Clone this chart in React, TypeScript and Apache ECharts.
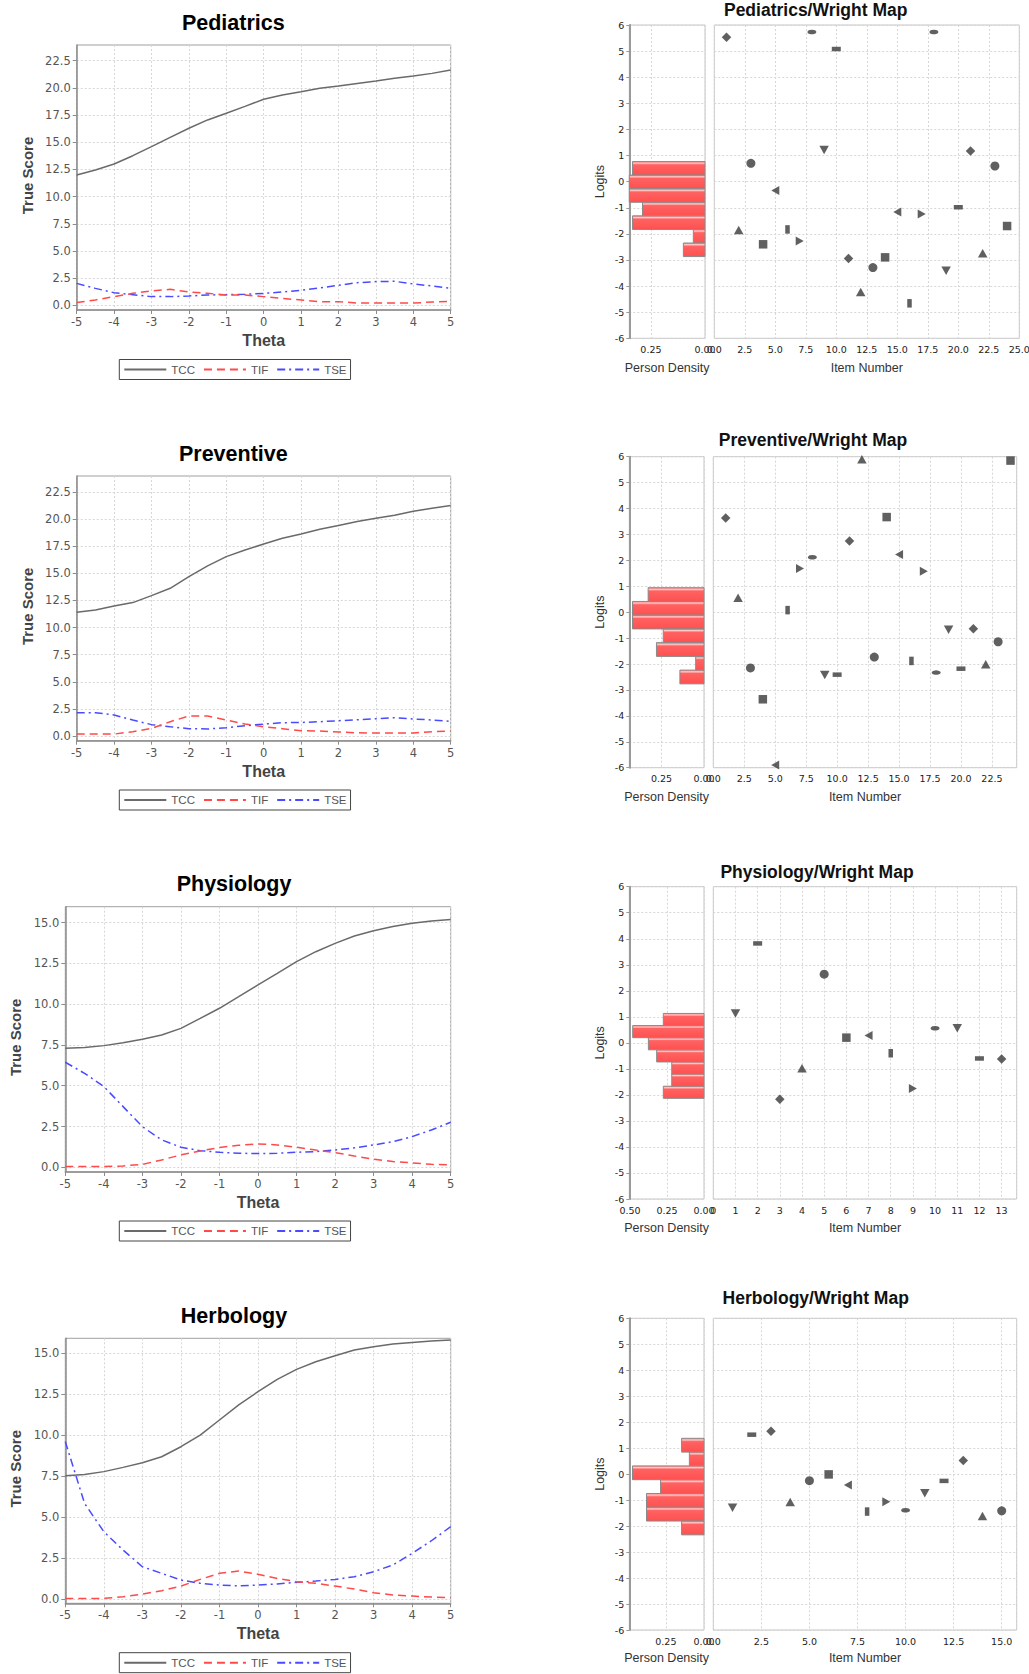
import React, { useEffect, useRef } from 'react';
import * as echarts from 'echarts';

// ---------- data ----------
const THETA = [-5, -4.5, -4, -3.5, -3, -2.5, -2, -1.5, -1, -0.5, 0, 0.5, 1, 1.5, 2, 2.5, 3, 3.5, 4, 4.5, 5];

const PED_TCC = [11.99, 12.45, 13.0, 13.76, 14.6, 15.45, 16.28, 17.05, 17.66, 18.3, 18.95, 19.35, 19.65, 19.96, 20.17, 20.4, 20.63, 20.88, 21.09, 21.33, 21.64];
const PED_TIF = [0.25, 0.5, 0.8, 1.1, 1.32, 1.47, 1.23, 1.1, 0.95, 0.95, 0.8, 0.64, 0.49, 0.34, 0.34, 0.21, 0.21, 0.21, 0.21, 0.3, 0.37];
const PED_TSE = [2.02, 1.56, 1.16, 0.98, 0.8, 0.8, 0.86, 0.95, 0.98, 1.01, 1.1, 1.23, 1.38, 1.6, 1.84, 2.08, 2.18, 2.21, 1.96, 1.78, 1.56];

const PREV_TCC = [11.4, 11.62, 11.99, 12.3, 12.94, 13.62, 14.69, 15.68, 16.54, 17.15, 17.7, 18.23, 18.63, 19.06, 19.4, 19.77, 20.07, 20.35, 20.72, 21.0, 21.24];
const PREV_TIF = [0.18, 0.18, 0.18, 0.4, 0.7, 1.32, 1.84, 1.84, 1.48, 1.1, 0.86, 0.68, 0.49, 0.46, 0.37, 0.3, 0.28, 0.28, 0.28, 0.4, 0.46];
const PREV_TSE = [2.15, 2.15, 1.94, 1.48, 1.05, 0.86, 0.68, 0.65, 0.77, 0.95, 1.1, 1.23, 1.25, 1.32, 1.41, 1.5, 1.6, 1.69, 1.57, 1.48, 1.35];

const PHYS_TCC = [7.3, 7.34, 7.46, 7.64, 7.85, 8.11, 8.52, 9.13, 9.75, 10.46, 11.18, 11.89, 12.61, 13.22, 13.73, 14.18, 14.51, 14.76, 14.96, 15.1, 15.2];
const PHYS_TIF = [0.04, 0.04, 0.04, 0.08, 0.18, 0.45, 0.76, 1.0, 1.21, 1.35, 1.43, 1.37, 1.23, 1.06, 0.9, 0.69, 0.49, 0.35, 0.27, 0.18, 0.14];
const PHYS_TSE = [6.44, 5.76, 4.95, 3.72, 2.49, 1.68, 1.23, 1.02, 0.92, 0.86, 0.84, 0.86, 0.92, 0.96, 1.06, 1.19, 1.37, 1.57, 1.88, 2.29, 2.76];

const HERB_TCC = [7.53, 7.61, 7.78, 8.04, 8.32, 8.69, 9.3, 10.01, 10.93, 11.85, 12.66, 13.41, 14.02, 14.49, 14.86, 15.2, 15.41, 15.57, 15.67, 15.75, 15.81];
const HERB_TIF = [0.04, 0.04, 0.04, 0.14, 0.3, 0.51, 0.79, 1.2, 1.57, 1.71, 1.51, 1.26, 1.06, 0.96, 0.79, 0.61, 0.39, 0.24, 0.18, 0.12, 0.08];
const HERB_TSE = [9.61, 5.84, 4.11, 2.99, 1.97, 1.57, 1.16, 0.96, 0.85, 0.81, 0.85, 0.92, 1.02, 1.1, 1.2, 1.36, 1.67, 2.08, 2.79, 3.56, 4.42];

// person density histograms: bin edges (logits, top to bottom) and densities
const PED_EDGES = [0.77, 0.25, -0.27, -0.79, -1.31, -1.83, -2.35, -2.87];
const PED_DENS = [0.335, 0.35, 0.35, 0.289, 0.335, 0.054, 0.1];
const PREV_EDGES = [0.945, 0.415, -0.115, -0.645, -1.175, -1.705, -2.235, -2.765];
const PREV_DENS = [0.329, 0.421, 0.421, 0.24, 0.28, 0.049, 0.142];
const PHYS_EDGES = [1.13, 0.664, 0.198, -0.268, -0.734, -1.2, -1.666, -2.132];
const PHYS_DENS = [0.275, 0.482, 0.376, 0.32, 0.218, 0.218, 0.275];
const HERB_EDGES = [1.38, 0.849, 0.318, -0.213, -0.744, -1.275, -1.806, -2.337];
const HERB_DENS = [0.147, 0.096, 0.469, 0.285, 0.377, 0.377, 0.147];

// item difficulties (logits), item number = index + 1
const PED_ITEMS = [5.53, -1.85, 0.7, -2.4, -0.34, -1.83, -2.27, 5.73, 1.21, 5.08, -2.94, -4.23, -3.29, -2.9, -1.16, -4.66, -1.24, 5.73, -3.41, -0.98, 1.17, -2.74, 0.6, -1.7];
const PREV_ITEMS = [3.63, 0.56, -2.15, -3.36, -5.9, 0.08, 1.69, 2.12, -2.42, -2.41, 2.75, 5.9, -1.73, 3.67, 2.23, -1.88, 1.58, -2.33, -0.68, -2.18, -0.64, -2.01, -1.14, 5.85];
const PHYS_ITEMS = [1.13, 3.82, -2.17, -0.98, 2.64, 0.2, 0.28, -0.4, -1.75, 0.56, 0.56, -0.6, -0.62];
const HERB_ITEMS = [-1.29, 1.52, 1.65, -1.07, -0.25, -0.01, -0.42, -1.44, -1.06, -1.39, -0.74, -0.26, 0.53, -1.61, -1.41];

const DOMAINS = ['Pediatrics', 'Preventive', 'Physiology', 'Herbology'];
const SERIES_NAMES = ['TCC', 'TIF', 'TSE'];
const TICKS_24 = [0, 2.5, 5, 7.5, 10, 12.5, 15, 17.5, 20, 22.5];
const TICKS_15 = [0, 2.5, 5, 7.5, 10, 12.5, 15];

const TCC_DATA = [
  [PED_TCC, PED_TIF, PED_TSE],
  [PREV_TCC, PREV_TIF, PREV_TSE],
  [PHYS_TCC, PHYS_TIF, PHYS_TSE],
  [HERB_TCC, HERB_TIF, HERB_TSE],
];
const TCC_TICKS = [TICKS_24, TICKS_24, TICKS_15, TICKS_15];
const HIST_EDGES = [PED_EDGES, PREV_EDGES, PHYS_EDGES, HERB_EDGES];
const HIST_DENS = [PED_DENS, PREV_DENS, PHYS_DENS, HERB_DENS];
const ITEMS = [PED_ITEMS, PREV_ITEMS, PHYS_ITEMS, HERB_ITEMS];

// marker shape cycle and starting offset per map
const SHAPE_CYCLE = ['diamond', 'triUp', 'circle', 'square', 'triLeft', 'vrect', 'triRight', 'hellipse', 'triDown', 'hrect'];
const SHAPE_OFFSET = [0, 0, 8, 8];

// ---------- layout ----------
const TCC_LAYOUT = [
  { left: 76.7, top: 45, width: 374, height: 265, yMin: -0.43, yMax: 23.94, titleX: 233.3, titleY: 22.5, nameX: 27, thetaY: 340.7, legendTop: 359.5 },
  { left: 76.7, top: 476, width: 374, height: 264.7, yMin: -0.43, yMax: 23.97, titleX: 233.3, titleY: 453.8, nameX: 27, thetaY: 771.7, legendTop: 790 },
  { left: 65.3, top: 906.7, width: 385.4, height: 265.3, yMin: -0.29, yMax: 15.98, titleX: 234, titleY: 884.2, nameX: 15.5, thetaY: 1202.7, legendTop: 1221 },
  { left: 65.3, top: 1338.3, width: 385.4, height: 265, yMin: -0.26, yMax: 15.92, titleX: 234, titleY: 1315.8, nameX: 15.5, thetaY: 1633.3, legendTop: 1652.7 },
];
const LEGEND_LEFT = 119.3;

const WM_LAYOUT = [
  { top: 25, height: 313.3, dLeft: 629.3, dWidth: 75.7, iLeft: 714.3, iWidth: 305, dMax: 0.35, iMax: 25, iStep: 2.5, iDec: 1, titleX: 815.7, titleY: 10, nameY: 367.7 },
  { top: 456.7, height: 311, dLeft: 629.3, dWidth: 74.7, iLeft: 713.3, iWidth: 303.4, dMax: 0.44, iMax: 24.5, iStep: 2.5, iDec: 1, titleX: 813, titleY: 439.7, nameY: 796.7 },
  { top: 886.7, height: 312.3, dLeft: 629.3, dWidth: 74.7, iLeft: 713.3, iWidth: 303.4, dMax: 0.505, iMax: 13.68, iStep: 1, iDec: 0, titleX: 817, titleY: 872, nameY: 1227.7 },
  { top: 1318.3, height: 311.7, dLeft: 629.3, dWidth: 74.7, iLeft: 713.3, iWidth: 303.4, dMax: 0.49, iMax: 15.78, iStep: 2.5, iDec: 1, titleX: 815.7, titleY: 1297.8, nameY: 1658.3 },
];

const LINE_STYLES = [
  { color: '#6a6a6a', width: 1.5, type: 'solid' as any },
  { color: '#ff4a4a', width: 1.5, type: [8, 5] as any },
  { color: '#4a4aff', width: 1.5, type: [8, 4, 2, 4] as any },
];

const GRID_LINE = { show: true, lineStyle: { color: '#d6d6d6', type: [2, 2] as any, width: 1 } };

function symbolFor(shape: string) {
  switch (shape) {
    case 'diamond': return { symbol: 'diamond', symbolSize: [9.5, 9.5], symbolRotate: 0 };
    case 'triUp': return { symbol: 'triangle', symbolSize: [9.5, 8.5], symbolRotate: 0 };
    case 'circle': return { symbol: 'circle', symbolSize: [9, 9], symbolRotate: 0 };
    case 'square': return { symbol: 'rect', symbolSize: [8.5, 8.5], symbolRotate: 0 };
    case 'triLeft': return { symbol: 'triangle', symbolSize: [9, 8], symbolRotate: 90 };
    case 'vrect': return { symbol: 'rect', symbolSize: [4.5, 8.5], symbolRotate: 0 };
    case 'triRight': return { symbol: 'triangle', symbolSize: [9, 8], symbolRotate: -90 };
    case 'hellipse': return { symbol: 'circle', symbolSize: [9, 4.5], symbolRotate: 0 };
    case 'triDown': return { symbol: 'triangle', symbolSize: [9.5, 8.5], symbolRotate: 180 };
    default: return { symbol: 'rect', symbolSize: [9, 4.5], symbolRotate: 0 };
  }
}

function text(x: number, y: number, t: string, size: number, weight: string, fill: string, rotate = 0) {
  return {
    type: 'text',
    x, y,
    rotation: rotate,
    silent: true,
    style: {
      text: t,
      fontSize: size,
      fontWeight: weight,
      fontFamily: '"Liberation Sans", Arial, sans-serif',
      fill,
      textAlign: 'center',
      textVerticalAlign: 'middle',
    },
  };
}

function buildOption() {
  const grid: any[] = [];
  const xAxis: any[] = [];
  const yAxis: any[] = [];
  const series: any[] = [];
  const legend: any[] = [];
  const graphic: any[] = [];

  // TCC charts
  TCC_LAYOUT.forEach((L, i) => {
    const gi = grid.length;
    grid.push({ left: L.left, top: L.top, width: L.width, height: L.height, containLabel: false, outerBoundsMode: 'none', show: true, borderColor: '#a0a0a0', borderWidth: 1, backgroundColor: '#fff' });
    xAxis.push({
      type: 'value', gridIndex: gi, min: -5, max: 5, interval: 1, position: 'bottom',
      axisLine: { show: true, onZero: false, lineStyle: { color: '#8c8c8c', width: 1.5 } },
      axisTick: { show: true, length: 4, lineStyle: { color: '#8c8c8c' } },
      axisLabel: { color: '#555', fontSize: 11.5, fontFamily: '"DejaVu Sans", sans-serif', margin: 6, formatter: (v: number) => String(v) },
      splitLine: GRID_LINE,
    });
    yAxis.push({
      type: 'value', gridIndex: gi, min: L.yMin, max: L.yMax, position: 'left',
      axisLine: { show: true, onZero: false, lineStyle: { color: '#8c8c8c', width: 1.5 } },
      axisTick: { show: true, length: 4, lineStyle: { color: '#8c8c8c' }, customValues: TCC_TICKS[i] },
      axisLabel: { color: '#555', fontSize: 11.5, fontFamily: '"DejaVu Sans", sans-serif', margin: 6, customValues: TCC_TICKS[i], formatter: (v: number) => v.toFixed(1) },
      splitLine: GRID_LINE,
    });
    TCC_DATA[i].forEach((arr, k) => {
      series.push({
        type: 'line', name: SERIES_NAMES[k], xAxisIndex: gi, yAxisIndex: gi,
        data: THETA.map((t, j) => [t, arr[j]]),
        symbol: 'none', showSymbol: false, smooth: false,
        lineStyle: LINE_STYLES[k], itemStyle: { color: LINE_STYLES[k].color },
        silent: true, z: 5 - k,
      });
    });
    legend.push({
      left: LEGEND_LEFT, top: L.legendTop,
      orient: 'horizontal', data: SERIES_NAMES, selectedMode: false,
      borderColor: '#444', borderWidth: 1, borderRadius: 0, padding: [4, 4, 4, 4],
      itemWidth: 42, itemHeight: 10, itemGap: 8,
      itemStyle: { opacity: 0, borderWidth: 0 },
      lineStyle: { opacity: 1 },
      textStyle: { color: '#555', fontSize: 11.5, fontFamily: '"Liberation Sans", Arial, sans-serif' },
    });
    graphic.push(text(L.titleX, L.titleY, DOMAINS[i], 21.5, 'bold', '#000'));
    graphic.push(text(L.nameX, L.top + L.height / 2 - 2, 'True Score', 15, 'bold', '#444', Math.PI / 2));
    graphic.push(text(L.left + L.width / 2, L.thetaY, 'Theta', 16, 'bold', '#444'));
  });

  // Wright maps
  WM_LAYOUT.forEach((W, i) => {
    const dg = grid.length;
    grid.push({ left: W.dLeft, top: W.top, width: W.dWidth, height: W.height, containLabel: false, outerBoundsMode: 'none', show: true, borderColor: '#c4c4c4', borderWidth: 1 });
    xAxis.push({
      type: 'value', gridIndex: dg, min: 0, max: W.dMax, interval: 0.25, inverse: true, position: 'bottom',
      axisLine: { show: false, onZero: false }, axisTick: { show: false },
      axisLabel: { color: '#222', fontSize: 9.5, fontFamily: '"DejaVu Sans", sans-serif', margin: 6, showMaxLabel: false, showMinLabel: true, formatter: (v: number) => v.toFixed(2) },
      splitLine: GRID_LINE,
    });
    yAxis.push({
      type: 'value', gridIndex: dg, min: -6, max: 6, interval: 1, position: 'left',
      axisLine: { show: true, onZero: false, lineStyle: { color: '#9a9a9a', width: 2 } },
      axisTick: { show: true, length: 3, lineStyle: { color: '#9a9a9a' } },
      axisLabel: { color: '#222', fontSize: 9.5, fontFamily: '"DejaVu Sans", sans-serif', margin: 5, formatter: (v: number) => String(v) },
      splitLine: GRID_LINE,
    });
    const edges = HIST_EDGES[i];
    series.push({
      type: 'custom', xAxisIndex: dg, yAxisIndex: dg, silent: true,
      data: HIST_DENS[i].map((d, k) => [edges[k + 1], edges[k], d]),
      encode: { x: 2, y: [0, 1] },
      renderItem: (params: any, api: any) => {
        const lo = api.value(0), hi = api.value(1), d = api.value(2);
        const a = api.coord([0, hi]);
        const b = api.coord([d, lo]);
        const x = Math.min(a[0], b[0]);
        return {
          type: 'rect',
          shape: { x, y: a[1], width: Math.abs(a[0] - b[0]), height: b[1] - a[1] },
          style: {
            fill: new echarts.graphic.LinearGradient(0, 0, 0, 1, [
              { offset: 0, color: '#ff6a6a' },
              { offset: 0.12, color: '#ffc8c8' },
              { offset: 0.24, color: '#ff6262' },
              { offset: 1, color: '#ff5050' },
            ]),
            stroke: '#8a8a8a', lineWidth: 1,
          },
        };
      },
    });

    const ig = grid.length;
    grid.push({ left: W.iLeft, top: W.top, width: W.iWidth, height: W.height, containLabel: false, outerBoundsMode: 'none', show: true, borderColor: '#c4c4c4', borderWidth: 1 });
    const maxIsTick = Math.abs(W.iMax / W.iStep - Math.round(W.iMax / W.iStep)) < 1e-9;
    xAxis.push({
      type: 'value', gridIndex: ig, min: 0, max: W.iMax, interval: W.iStep, position: 'bottom',
      axisLine: { show: false, onZero: false }, axisTick: { show: false },
      axisLabel: { color: '#222', fontSize: 9.5, fontFamily: '"DejaVu Sans", sans-serif', margin: 6, showMaxLabel: maxIsTick, showMinLabel: true, formatter: (v: number) => v.toFixed(W.iDec) },
      splitLine: GRID_LINE,
    });
    yAxis.push({
      type: 'value', gridIndex: ig, min: -6, max: 6, interval: 1, position: 'left',
      axisLine: { show: false, onZero: false }, axisTick: { show: false }, axisLabel: { show: false },
      splitLine: GRID_LINE,
    });
    const off = SHAPE_OFFSET[i];
    series.push({
      type: 'scatter', xAxisIndex: ig, yAxisIndex: ig, silent: true,
      itemStyle: { color: '#383838' },
      data: ITEMS[i].map((v, k) => ({ value: [k + 1, v], ...symbolFor(SHAPE_CYCLE[(k + off) % SHAPE_CYCLE.length]) })),
    });

    graphic.push(text(W.titleX, W.titleY, DOMAINS[i] + '/Wright Map', 17.5, 'bold', '#111'));
    graphic.push(text(600, W.top + W.height / 2, 'Logits', 12.5, 'normal', '#333', Math.PI / 2));
    graphic.push(text(W.dLeft + W.dWidth / 2, W.nameY, 'Person Density', 12.5, 'normal', '#333'));
    graphic.push(text(W.iLeft + W.iWidth / 2, W.nameY, 'Item Number', 12.5, 'normal', '#333'));
  });

  return { animation: false, backgroundColor: '#fff', grid, xAxis, yAxis, series, legend, graphic };
}

export default function App() {
  const ref = useRef<HTMLDivElement>(null);
  useEffect(() => {
    if (!ref.current) return;
    const chart = echarts.init(ref.current, undefined, { renderer: 'svg' });
    chart.setOption(buildOption() as any);
    return () => chart.dispose();
  }, []);
  return <div ref={ref} style={{ position: 'absolute', left: 0, top: 0, width: 1029, height: 1674, background: '#fff' }} />;
}
